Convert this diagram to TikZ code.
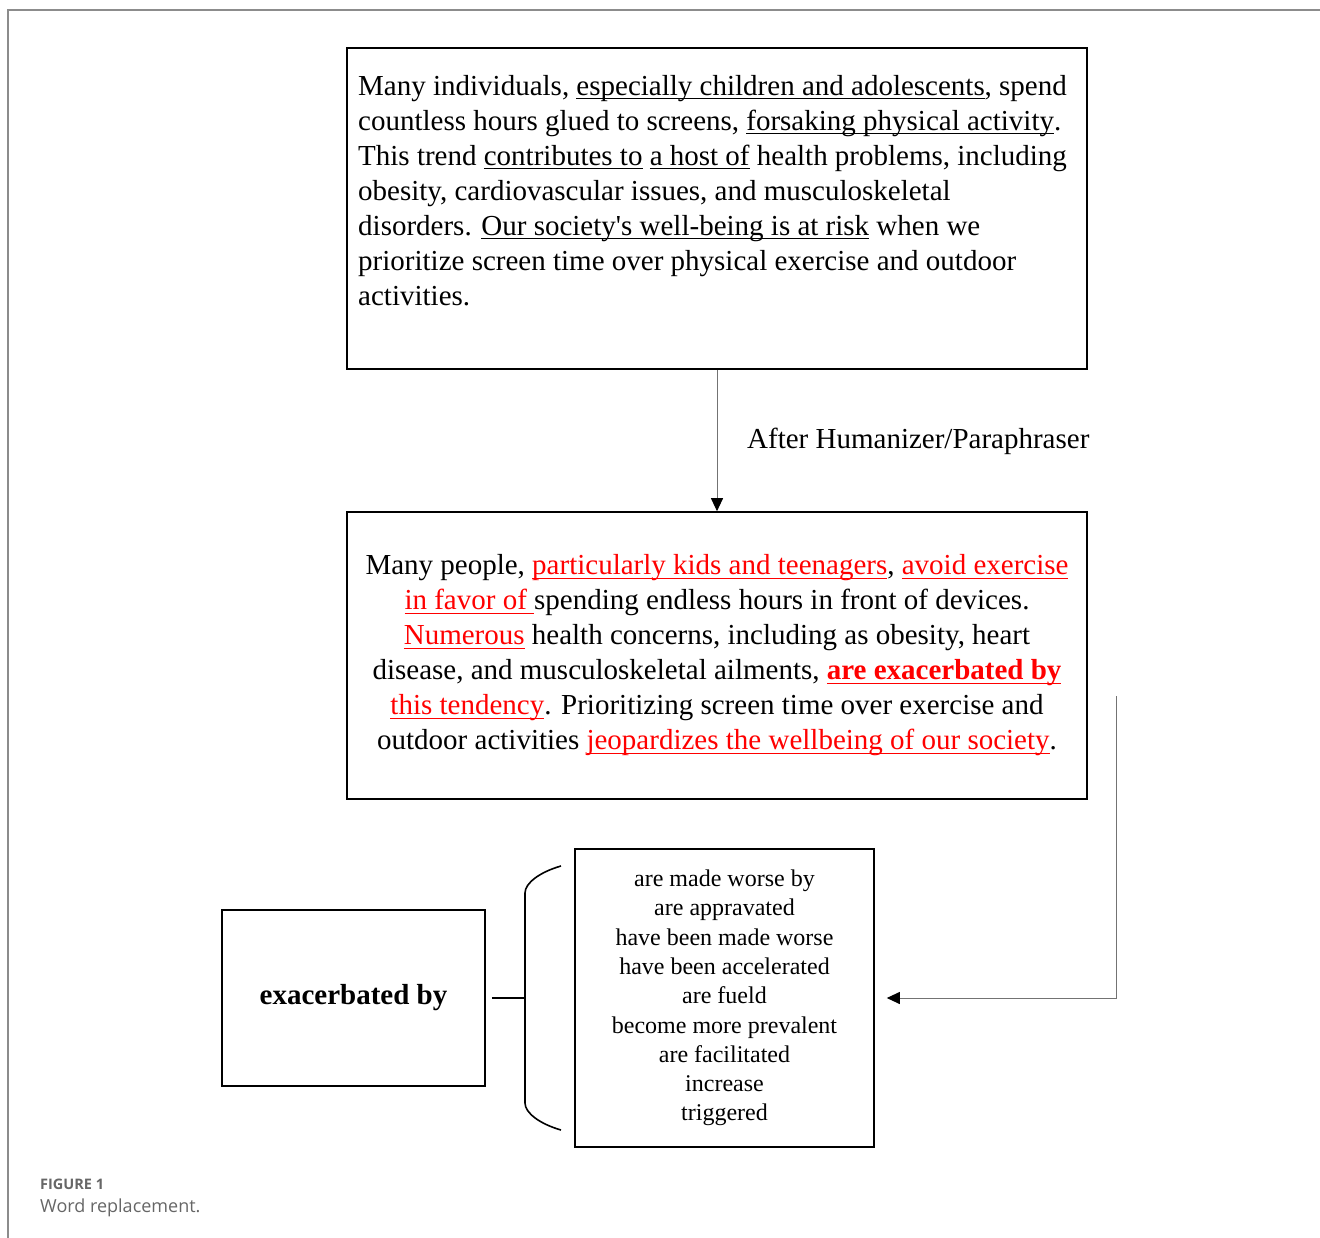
\documentclass[tikz,border=0pt]{standalone}
\usepackage{fontspec}
\setmainfont{Liberation Serif}
\newfontfamily\capfont{Open Sans}
\usetikzlibrary{arrows.meta, positioning}
\newsavebox{\ulbox}
\newcommand{\uln}[1]{\sbox{\ulbox}{#1}\rlap{\rule[-4pt]{\wd\ulbox}{1.3pt}}\usebox{\ulbox}}
\newcommand{\redul}[1]{\textcolor{red}{\uln{#1}}}

\begin{document}
\begin{tikzpicture}[x=1pt, y=-1pt, >={Triangle[black, length=13pt, width=12pt]},
  box/.style={draw, line width=1.6pt, inner sep=0pt},
  flow/.style={draw=black!55, line width=1pt}]
\useasboundingbox (0,0) rectangle (1320,1238);
%========================
% page frame
%========================
\draw[black!45, line width=1.5pt] (8,1238) -- (8,10) -- (1320,10);

%========================
% original text
%========================
\node[box, minimum width=740pt, minimum height=321pt] (orig) at (717,208.5) {};
\node[anchor=north west, inner sep=0pt, align=left, font=\fontsize{29}{35}\selectfont] (origtext) at (358,75) {%
Many individuals, \uln{especially children and adolescents}, spend\\
countless hours glued to screens, \uln{forsaking physical activity}.\\
This trend \uln{contributes to} \uln{a host of} health problems, including\\
obesity, cardiovascular issues, and musculoskeletal\\
disorders. \uln{Our society\textquotesingle s well-being is at risk} when we\\
prioritize screen time over physical exercise and outdoor\\
activities.};

%========================
% paraphrased text
%========================
\node[box, minimum width=740pt, minimum height=287pt, align=center, font=\fontsize{29}{35}\selectfont] (para) at (717,655.5) {%
Many people, \redul{particularly kids and teenagers}, \redul{avoid exercise}\\
\redul{in favor of }spending endless hours in front of devices.\\
\redul{Numerous} health concerns, including as obesity, heart\\
disease, and musculoskeletal ailments, \redul{\bfseries are exacerbated by}\\
\redul{this tendency}. Prioritizing screen time over exercise and\\
outdoor activities \redul{jeopardizes the wellbeing of our society}.};

\draw[flow, ->] (orig.south) -- (para.north);
\node[anchor=west, inner sep=0pt, font=\fontsize{29}{35}\selectfont] (afterlabel) at (747,441) {After Humanizer/Paraphraser};

%========================
% word and its replacements
%========================
\node[box, minimum width=263pt, minimum height=176pt, font=\fontsize{29}{35}\selectfont\bfseries] (word) at (353.5,998) {exacerbated by};

\node[box, minimum width=299pt, minimum height=298pt, align=center, font=\fontsize{24}{29.3}\selectfont] (alt) at (724.5,998) {%
are made worse by\\
are appravated\\
have been made worse\\
have been accelerated\\
are fueld\\
become more prevalent\\
are facilitated\\
increase\\
triggered};

% brace
\coordinate (bracemid) at (525,998);
\draw[line width=1.6pt] (561,866) .. controls (540,872) and (525,883) .. (525,893)
  -- (525,1103) .. controls (525,1113) and (540,1124) .. (561,1130);
\draw[line width=1.4pt, shorten <=6pt] (word.east) -- (bracemid);

% link from the paraphrase
\coordinate (tap) at (1116,696);
\draw[flow, ->, shorten >=12pt] (tap) |- (alt.east);

%========================
% caption
%========================
\node[anchor=west, inner sep=0pt, text=black!60, font=\capfont\bfseries\fontsize{14.5}{16}\selectfont] (figlabel) at (40,1184) {FIGURE 1};
\node[anchor=west, inner sep=0pt, text=black!60, font=\capfont\fontsize{18}{22}\selectfont] (figcaption) at (40,1208) {Word replacement.};
\end{tikzpicture}
\end{document}
